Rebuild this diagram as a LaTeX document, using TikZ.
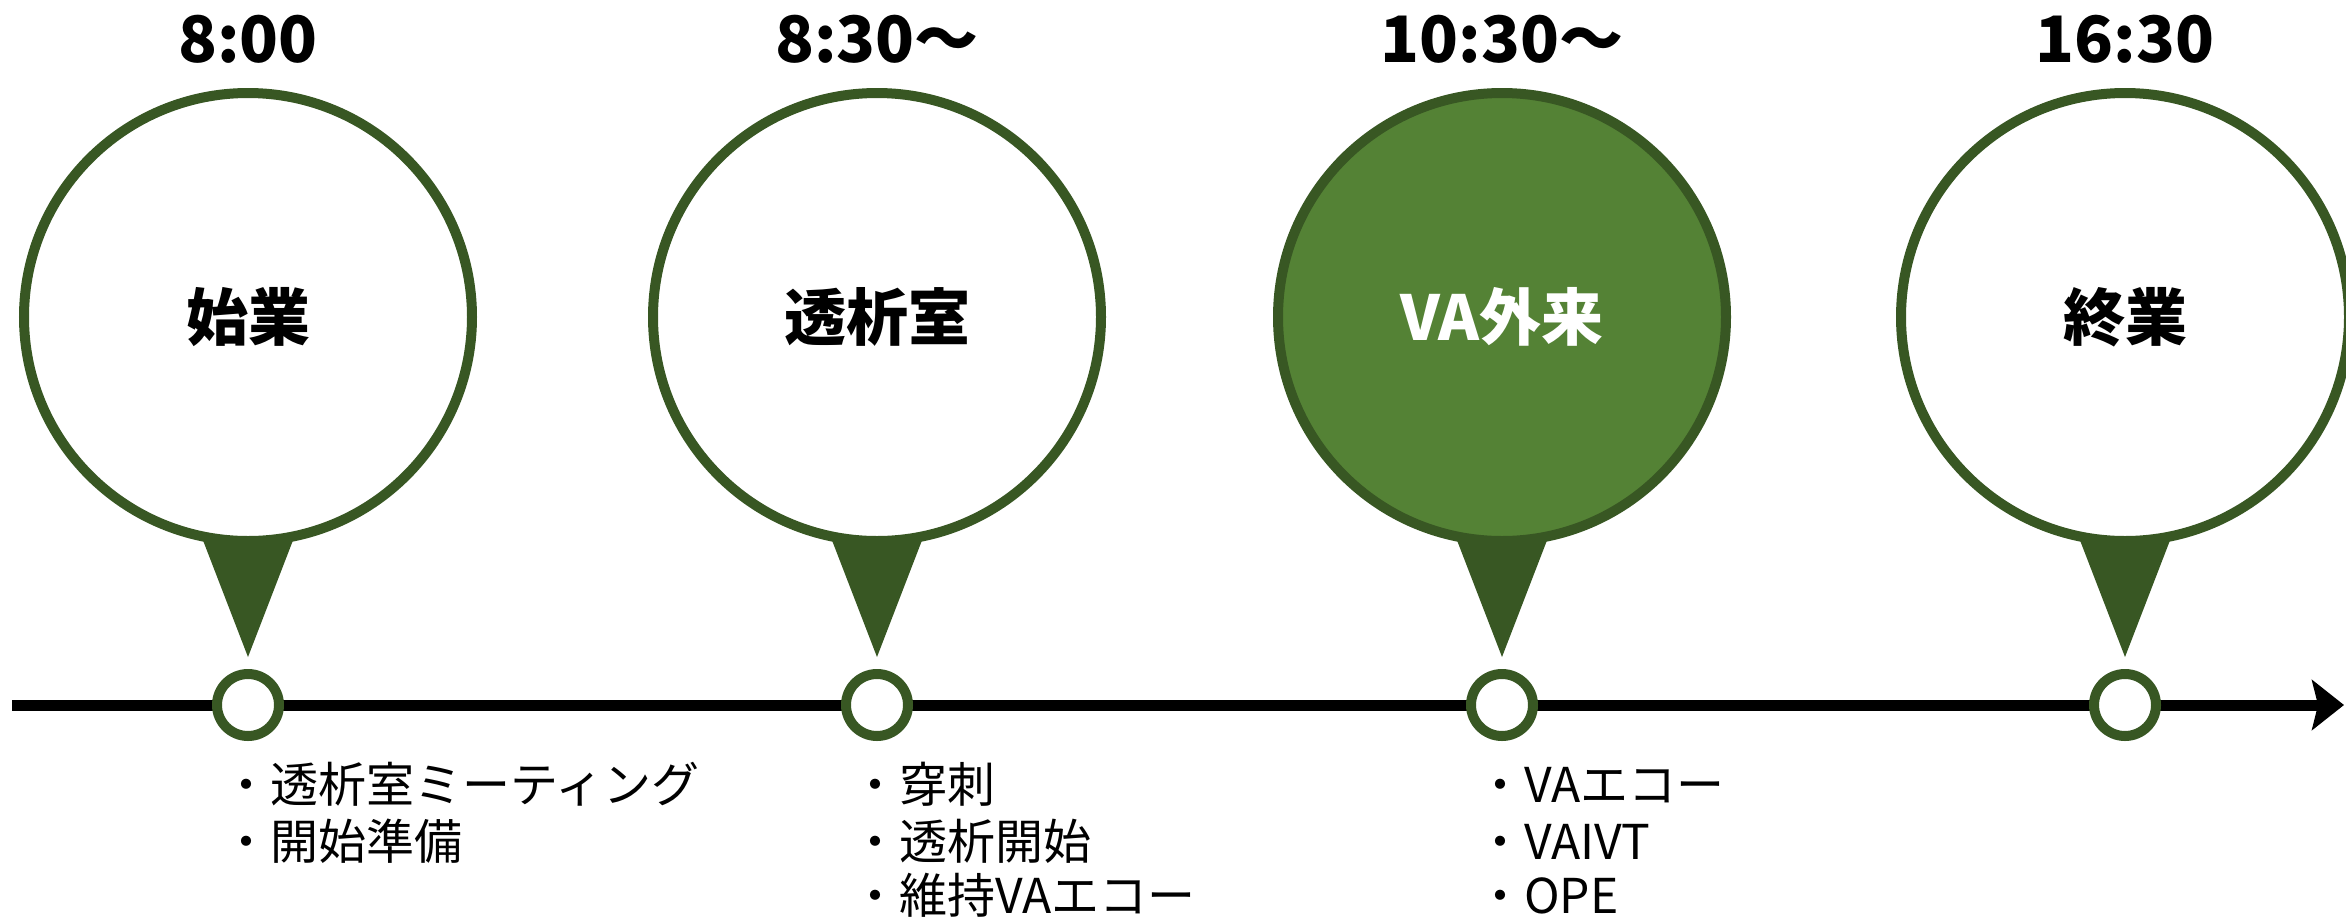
\documentclass[tikz,border=0pt]{standalone}
\usepackage{fontspec}
\newfontfamily\jp{Noto Sans CJK JP}
\usetikzlibrary{arrows.meta}
\definecolor{dkgreen}{RGB}{56,87,35}
\definecolor{midgreen}{RGB}{84,130,53}
\tikzset{
  bigpin/.style={circle, draw=dkgreen, line width=10pt, fill=white, minimum size=448pt, inner sep=0pt,
    font=\jp\bfseries\fontsize{62}{62}\selectfont},
  bigpinva/.style={bigpin, fill=midgreen, text=white},
  dotmark/.style={circle, draw=dkgreen, line width=10pt, fill=white, minimum size=62pt, inner sep=0pt},
  timelbl/.style={anchor=base, inner sep=0pt, font=\jp\bfseries\fontsize{64}{64}\selectfont},
  item/.style={anchor=base west, inner sep=0pt, font=\jp\fontsize{48}{48}\selectfont},
}
\begin{document}
\begin{tikzpicture}[x=1pt,y=-1pt]
\useasboundingbox (0,0) rectangle (2346,919);
% tails (under circles)
\foreach \cx in {248,877,1502,2125}{
  \fill[dkgreen] (\cx-54,517) -- (\cx+54,517) -- (\cx,657) -- cycle;
}
% big circles
\node[bigpin] (pa) at (248,317) {始業};
\node[bigpin] (pb) at (877,317) {透析室};
\node[bigpinva] (pc) at (1502,317) {VA外来};
\node[bigpin] (pd) at (2125,317) {終業};
% time labels
\node[timelbl] (ta) at (248,62) {8:00};
\node[timelbl] (tb) at (877,62) {8:30～};
\node[timelbl] (tc) at (1502,62) {10:30～};
\node[timelbl] (td) at (2125,62) {16:30};
% timeline
\coordinate (ls) at (12,705);
\coordinate (le) at (2344,705);
\draw[line width=11pt, -{Stealth[length=32pt,width=50pt,inset=6pt]}] (ls) -- (le);
\node[dotmark] (da) at (248,705) {};
\node[dotmark] (db) at (877,705) {};
\node[dotmark] (dc) at (1502,705) {};
\node[dotmark] (dd) at (2125,705) {};
% items
\node[item] (a1) at (222,802) {・透析室ミーティング};
\node[item] (a2) at (222,859) {・開始準備};
\node[item] (b1) at (851,802) {・穿刺};
\node[item] (b2) at (851,859) {・透析開始};
\node[item] (b3) at (851,913) {・維持VAエコー};
\node[item] (c1) at (1476,802) {・VAエコー};
\node[item] (c2) at (1476,859) {・VAIVT};
\node[item] (c3) at (1476,913) {・OPE};
\end{tikzpicture}
\end{document}
